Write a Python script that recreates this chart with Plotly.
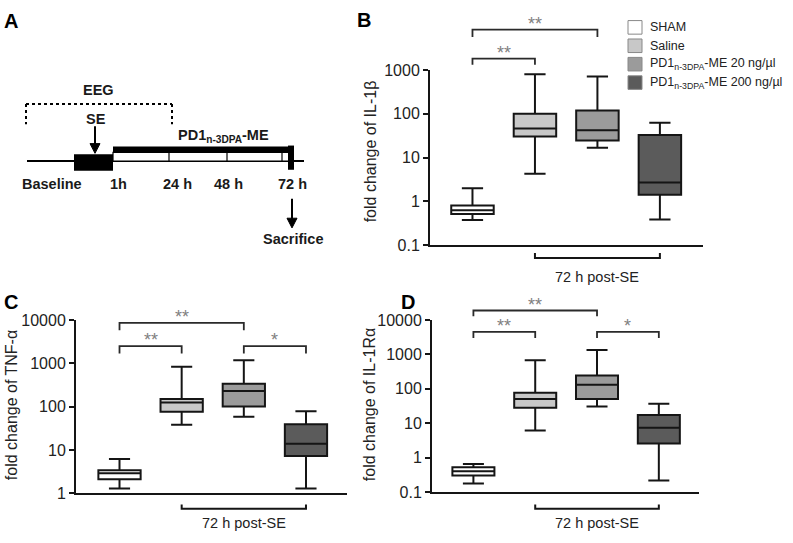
import plotly.graph_objects as go

W, H = 793, 543
FONT = "Liberation Sans, Arial, sans-serif"

# ---------------- data ----------------
groups = ["SHAM", "Saline",
          "PD1<sub>n-3DPA</sub>-ME 20 ng/µl",
          "PD1<sub>n-3DPA</sub>-ME 200 ng/µl"]
fills = ["#ffffff", "#c8c8c8", "#9b9b9b", "#5b5b5b"]

# Panel B: IL-1β fold change
il1b_low = [0.38, 4.3, 16.8, 0.39]
il1b_q1 = [0.52, 30.5, 24.5, 1.43]
il1b_med = [0.63, 46.5, 42, 2.7]
il1b_q3 = [0.81, 100, 119, 33]
il1b_high = [2.0, 800, 708, 63]

# Panel C: TNF-α fold change
tnf_low = [1.3, 38, 58, 1.3]
tnf_q1 = [2.1, 76, 100, 7.3]
tnf_med = [2.9, 125, 228, 14]
tnf_q3 = [3.4, 149, 338, 39]
tnf_high = [6.2, 830, 1180, 78]

# Panel D: IL-1Rα fold change
il1ra_low = [0.18, 6.2, 31, 0.22]
il1ra_q1 = [0.31, 28.6, 51, 2.6]
il1ra_med = [0.41, 51, 132, 7.5]
il1ra_q3 = [0.53, 77, 243, 17.5]
il1ra_high = [0.66, 680, 1350, 37]

ticks_b = [0.1, 1, 10, 100, 1000]
ticks_c = [1, 10, 100, 1000, 10000]
ticks_d = [0.1, 1, 10, 100, 1000, 10000]
ticktext_b = ["0.1", "1", "10", "100", "1000"]
ticktext_c = ["1", "10", "100", "1000", "10000"]
ticktext_d = ["0.1", "1", "10", "100", "1000", "10000"]


def fx(x):
    return x / W


def fy(y):
    return 1 - y / H


def minor_vals(decades):
    out = []
    for k in decades:
        for m in range(2, 10):
            out.append(m * 10.0 ** k)
    return out


fig = go.Figure()

panels = [
    # axis suffix, minor axis suffix, data, x px domain, y px domain, x range, y range (log)
    ("", "4", (il1b_low, il1b_q1, il1b_med, il1b_q3, il1b_high), (430, 703), (64, 245), (-0.68, 3.69), (-1, 3), ticks_b, ticktext_b),
    ("2", "5", (tnf_low, tnf_q1, tnf_med, tnf_q3, tnf_high), (76, 347), (322, 501), (-0.70, 3.66), (0, 4), ticks_c, ticktext_c),
    ("3", "6", (il1ra_low, il1ra_q1, il1ra_med, il1ra_q3, il1ra_high), (432, 699), (322, 500), (-0.67, 3.65), (-1, 4), ticks_d, ticktext_d),
]

layout_axes = {}
for suf, msuf, (lo, q1, med, q3, hi), xd, yd, xr, yr, tv, tt in panels:
    for i in range(4):
        fig.add_trace(go.Box(
            x=[i], q1=[q1[i]], median=[med[i]], q3=[q3[i]],
            lowerfence=[lo[i]], upperfence=[hi[i]],
            fillcolor=fills[i], line=dict(color="#151515", width=2),
            width=0.68, whiskerwidth=0.5, boxpoints=False,
            xaxis="x" + suf, yaxis="y" + suf, showlegend=False,
            hoverinfo="skip"))
    layout_axes["xaxis" + suf] = dict(
        domain=[fx(xd[0]), fx(xd[1])], range=list(xr), anchor="y" + suf,
        showline=True, linewidth=2, linecolor="#151515", showticklabels=False,
        ticks="", showgrid=False, zeroline=False)
    layout_axes["yaxis" + suf] = dict(
        domain=[fy(yd[1]), fy(yd[0])], range=list(yr), type="log",
        anchor="x" + suf, showline=True, linewidth=2, linecolor="#151515",
        ticks="outside", ticklen=5, tickwidth=1.5, tickcolor="#151515",
        tickvals=tv, ticktext=tt, showgrid=False, zeroline=False,
        tickfont=dict(family=FONT, size=16, color="#222"))
    # minor ticks on an overlaid axis
    layout_axes["yaxis" + msuf] = dict(
        domain=[fy(yd[1]), fy(yd[0])], range=list(yr), type="log",
        anchor="x" + suf, overlaying="y" + suf, side="left",
        showline=False, ticks="outside", ticklen=3, tickwidth=1,
        tickcolor="#333", tickvals=minor_vals(range(yr[0], yr[1])),
        showticklabels=False, showgrid=False, zeroline=False)

shapes = []
annotations = []


def text(x, y, s, size=14, bold=False, color="#1a1a1a", anchor="center", angle=0, xref="paper"):
    annotations.append(dict(
        x=x if xref != "paper" else fx(x), y=fy(y), xref=xref, yref="paper",
        text=("<b>%s</b>" % s) if bold else s, showarrow=False,
        xanchor=anchor, yanchor="middle", textangle=angle,
        font=dict(family=FONT, size=size, color=color)))


def sig_bracket(xa, i1, i2, ytop, yend, label):
    shapes.append(dict(type="path", xref=xa, yref="paper",
                       path="M %s,%s L %s,%s L %s,%s L %s,%s" % (
                           i1, fy(yend), i1, fy(ytop), i2, fy(ytop), i2, fy(yend)),
                       line=dict(color="#2a2a2a", width=1.8)))
    text((i1 + i2) / 2, ytop - 6, label, size=18, color="#808080", xref=xa)


def post_bracket(xa, i1, i2, yline, yend, ytext):
    shapes.append(dict(type="path", xref=xa, yref="paper",
                       path="M %s,%s L %s,%s L %s,%s L %s,%s" % (
                           i1, fy(yend), i1, fy(yline), i2, fy(yline), i2, fy(yend)),
                       line=dict(color="#151515", width=2)))
    text((i1 + i2) / 2, ytext, "72 h post-SE", size=14.5, color="#222", xref=xa)


# Panel B annotations
sig_bracket("x", 0, 1, 52.3, 58.5, "**")
sig_bracket("x", 0, 2, 22.3, 30, "**")
post_bracket("x", 1, 3, 258, 253, 277.5)
# Panel C
sig_bracket("x2", 0, 2, 325, 332.7, "**")
sig_bracket("x2", 0, 1, 349, 356.7, "**")
sig_bracket("x2", 2, 3, 349, 356.7, "*")
post_bracket("x2", 1, 3, 517, 512.5, 532)
# Panel D
sig_bracket("x3", 0, 2, 312.3, 318.3, "**")
sig_bracket("x3", 0, 1, 334.3, 340.7, "**")
sig_bracket("x3", 2, 3, 334.3, 340.7, "*")
post_bracket("x3", 1, 3, 517, 512.5, 532)

# y-axis titles
text(370, 148, "fold change of IL-1β", size=16, color="#222", angle=-90)
text(11, 410, "fold change of TNF-α", size=16, color="#222", angle=-90)
text(369, 410, "fold change of IL-1Rα", size=16, color="#222", angle=-90)

# panel letters
text(11, 13, "A", size=20, bold=True, color="#000")
text(364, 12, "B", size=20, bold=True, color="#000")
text(11, 304, "C", size=20, bold=True, color="#000")
text(408, 304, "D", size=20, bold=True, color="#000")

# legend (manual)
leg_y = [20, 39, 58, 77]
for i, g in enumerate(groups):
    shapes.append(dict(type="rect", xref="paper", yref="paper",
                       x0=fx(628), x1=fx(642), y0=fy(leg_y[i] + 7), y1=fy(leg_y[i] - 7),
                       fillcolor=fills[i], line=dict(color="#888", width=1)))
    text(648, leg_y[i], g, size=12.5, color="#222", anchor="left")

# ---------------- Panel A timeline diagram ----------------
def line(x0, y0, x1, y1, width=2, dash=None, color="#000"):
    d = dict(type="line", xref="paper", yref="paper", x0=fx(x0), y0=fy(y0),
             x1=fx(x1), y1=fy(y1), line=dict(color=color, width=width))
    if dash:
        d["line"]["dash"] = dash
    shapes.append(d)


def rect(x0, y0, x1, y1, fill="#000", lw=0, lc="#000"):
    shapes.append(dict(type="rect", xref="paper", yref="paper", x0=fx(x0), y0=fy(y1),
                       x1=fx(x1), y1=fy(y0), fillcolor=fill,
                       line=dict(color=lc, width=lw)))


def arrow_down(xc, y0, y1):
    line(xc, y0, xc, y1 - 8, width=2)
    shapes.append(dict(type="path", xref="paper", yref="paper",
                       path="M %s,%s L %s,%s L %s,%s Z" % (
                           fx(xc - 5), fy(y1 - 10), fx(xc + 5), fy(y1 - 10), fx(xc), fy(y1)),
                       fillcolor="#000", line=dict(color="#000", width=1)))


# EEG dotted bracket
line(26, 99, 172, 99, width=2, dash="dot")
line(26, 99, 26, 120, width=2, dash="dot")
line(172, 99, 172, 120, width=2, dash="dot")
text(98, 85, "EEG", size=14.5, bold=True)
text(96, 115, "SE", size=14.5, bold=True)
# main timeline
line(27, 158, 304, 158, width=2)
rect(113, 149, 289, 158, fill="#fff", lw=1.2)
for xd in (169, 227, 282):
    line(xd, 149, xd, 158, width=1.2)
rect(113, 143, 289, 149.5, fill="#000")
rect(74, 151, 113, 168, fill="#000")
rect(288, 142, 294, 167, fill="#000")
text(176, 132, "PD1<sub>n-3DPA</sub>-ME", size=14.5, bold=True, anchor="left")
for lbl, xc in (("Baseline", 52), ("1h", 118), ("24 h", 177), ("48 h", 228), ("72 h", 292)):
    text(xc, 182, lbl, size=14.5, bold=True)
text(293, 238, "Sacrifice", size=14.5, bold=True)
arrow_down(95, 122, 150)
arrow_down(292, 197, 227)

fig.update_layout(
    width=W, height=H, margin=dict(l=0, r=0, t=0, b=0),
    paper_bgcolor="#fff", plot_bgcolor="rgba(0,0,0,0)",
    shapes=shapes, annotations=annotations, showlegend=False,
    font=dict(family=FONT), **layout_axes)

fig.write_html("out.html", config={"displayModeBar": False},
               post_script="document.body.style.margin='0';document.body.style.padding='0';")
